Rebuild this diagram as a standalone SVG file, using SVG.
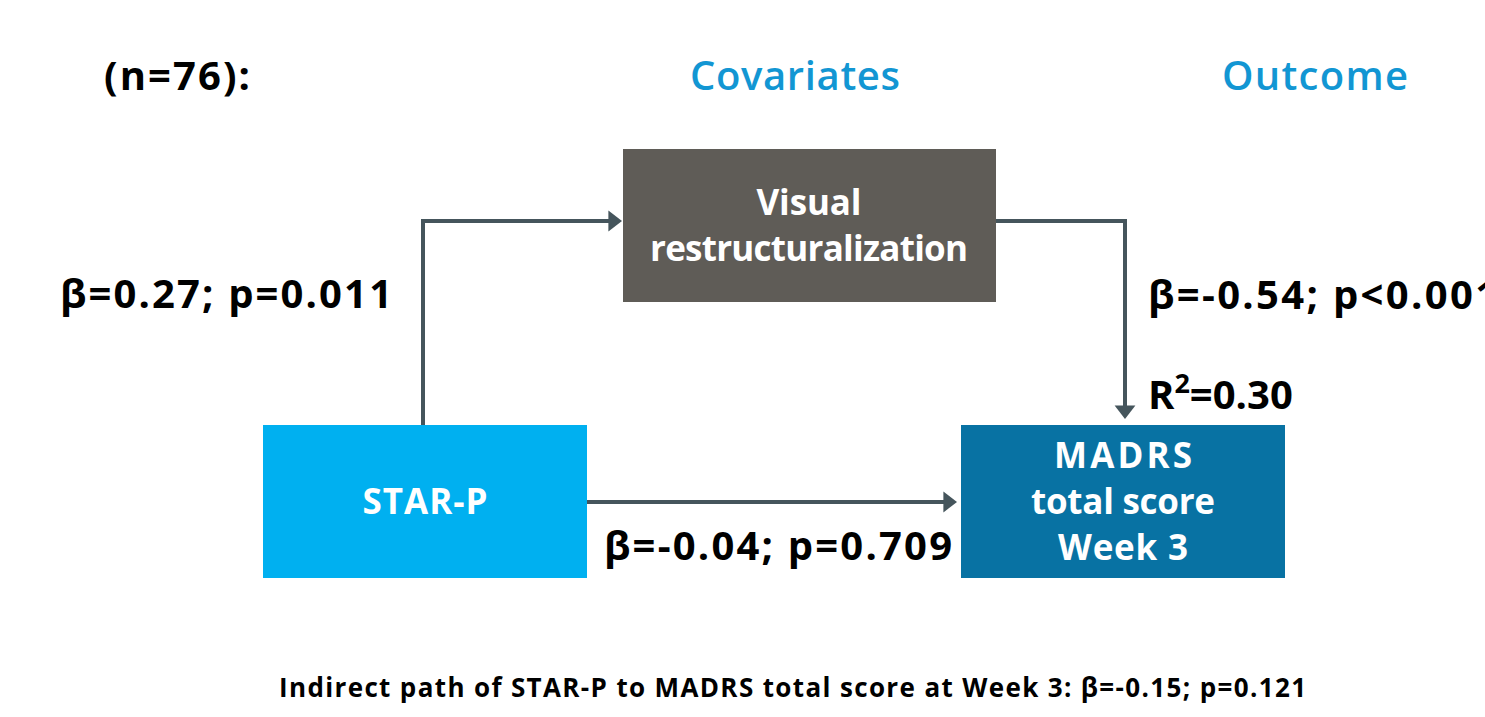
<svg xmlns="http://www.w3.org/2000/svg" width="1485" height="717" viewBox="0 0 1485 717">
<style>
text{font-family:"Open Sans","Noto Sans","Liberation Sans",sans-serif;font-weight:700}
.lbl{font-size:40px;fill:#000}
.hdr{font-size:40px;fill:#1296d3;font-weight:600}
.box{font-size:35px;fill:#fff;text-anchor:middle}
.conn{fill:none;stroke:#45555c;stroke-width:4}
</style>
<defs>
<marker id="ah" markerWidth="6" markerHeight="6" refX="2.4" refY="3" orient="auto" markerUnits="strokeWidth">
<path d="M0,0.4 L3.4,3 L0,5.6 Z" fill="#45555c"/>
</marker>
</defs>
<rect width="1485" height="717" fill="#fff"/>
<text class="lbl" x="104" y="90" textLength="146">(n=76):</text>
<text class="hdr" x="690" y="90" textLength="210">Covariates</text>
<text class="hdr" x="1222" y="90" textLength="186">Outcome</text>
<g id="connectors">
<path class="conn" d="M423,425 V221 H618" marker-end="url(#ah)"/>
<path class="conn" d="M996,221 H1125 V415" marker-end="url(#ah)"/>
<path class="conn" d="M587,502 H953" marker-end="url(#ah)"/>
</g>
<g id="visual">
<rect x="623" y="149" width="373" height="153" fill="#5f5c57"/>
<text class="box" x="809" y="215" textLength="105">Visual</text>
<text class="box" x="809" y="261" textLength="318">restructuralization</text>
</g>
<g id="starp">
<rect x="263" y="425" width="324" height="153" fill="#00b0f0"/>
<text class="box" x="425" y="514" textLength="125">STAR-P</text>
</g>
<g id="madrs">
<rect x="961" y="425" width="324" height="153" fill="#0872a3"/>
<text class="box" x="1123" y="468" textLength="138">MADRS</text>
<text class="box" x="1123" y="514" textLength="184">total score</text>
<text class="box" x="1123" y="560" textLength="130">Week 3</text>
</g>
<text class="lbl" x="60" y="308" textLength="332">β=0.27; p=0.011</text>
<text class="lbl" x="1148" y="309" textLength="350">β=-0.54; p&lt;0.001</text>
<text class="lbl" x="1148" y="409" font-size="43">R<tspan dy="-16" font-size="27">2</tspan><tspan dy="16">=0.30</tspan></text>
<text class="lbl" x="604" y="560" textLength="348">β=-0.04; p=0.709</text>
<text x="279" y="697" font-size="26" fill="#000" textLength="1027">Indirect path of STAR-P to MADRS total score at Week 3: β=-0.15; p=0.121</text>
</svg>
